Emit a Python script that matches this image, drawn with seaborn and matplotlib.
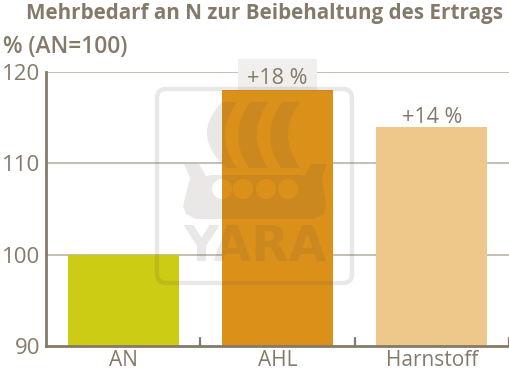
import numpy as np
import pandas as pd
import seaborn as sns
import matplotlib.pyplot as plt
from matplotlib.patches import FancyBboxPatch, PathPatch
from matplotlib.path import Path

categories = ["AN", "AHL", "Harnstoff"]
values = [100, 118, 114]
bar_labels = ["", "+18 %", "+14 %"]
bar_colors = ["#cccc14", "#db9119", "#edc88a"]
y_ticks = [90, 100, 110, 120]

TXT = "#857a6a"
AXIS = "#857a69"
GRID = "#b3ada3"

sns.set_theme(style="white")
plt.rcParams["font.family"] = ["Open Sans", "DejaVu Sans"]

fig = plt.figure(figsize=(5.10, 3.72), dpi=100)
ax = fig.add_axes([46 / 510, 1 - 346 / 372, 463 / 510, 274 / 372])

df = pd.DataFrame({"cat": categories, "val": values})
sns.barplot(data=df, x="cat", y="val", hue="cat", palette=bar_colors, order=categories,
            width=0.72, saturation=1, legend=False, dodge=False, linewidth=0, ax=ax, zorder=3)

ax.set_xlim(-0.5, 2.5)
ax.set_ylim(90, 120)
ax.set_xlabel("")
ax.set_ylabel("")
ax.set_yticks(y_ticks)
ax.tick_params(axis="y", length=0, labelsize=16, labelcolor=TXT, pad=4)
ax.tick_params(axis="x", length=0, labelsize=15, labelcolor=TXT, pad=3)

# grid lines only, no box
for v in y_ticks[1:]:
    ax.axhline(v, color=GRID, lw=1.1, zorder=1)
for s in ["top", "right"]:
    ax.spines[s].set_visible(False)
for s in ["left", "bottom"]:
    ax.spines[s].set_color(AXIS)
    ax.spines[s].set_linewidth(2)
    ax.spines[s].set_zorder(5)

# small ticks between the categories
for x in [0.5, 1.5, 2.5]:
    ax.plot([x, x], [90, 90.9], color=AXIS, lw=1.6, clip_on=False, zorder=5)

# labels over the bars
for i, lab in enumerate(bar_labels):
    if lab == "":
        continue
    box = None
    off = 0.4
    if i == 1:
        box = dict(facecolor="#f0efed", edgecolor="none", pad=6.5)
        off = 0.72
    ax.text(i, values[i] + off, lab, ha="center", va="baseline", fontsize=15.5, color=TXT,
            bbox=box, zorder=2 if i == 1 else 6, clip_on=False)

fig.text(264.5 / 510, 1 - 13 / 372, "Mehrbedarf an N zur Beibehaltung des Ertrags", ha="center", va="center",
         fontsize=14.9, fontweight="bold", color=TXT)
fig.text(3 / 510, 1 - 47 / 372, "% (AN=100)", ha="left", va="center", fontsize=16.4, fontweight="semibold", color=TXT)

# watermark logo, overlay in pixel coordinates
wm = fig.add_axes([0, 0, 1, 1], facecolor="none")
wm.set_xlim(0, 510)
wm.set_ylim(372, 0)
wm.axis("off")
WM = dict(facecolor="#605040", alpha=0.13, edgecolor="none")

wm.add_patch(FancyBboxPatch((157, 89), 195, 194, boxstyle="round,pad=0,rounding_size=9",
                            facecolor="none", edgecolor="#605040", alpha=0.13, lw=3.2))


def crescent(tl, tr, br, bl, inner, outer):
    c_in = (2 * inner[0] - (tr[0] + br[0]) / 2, 2 * inner[1] - (tr[1] + br[1]) / 2)
    c_out = (2 * outer[0] - (tl[0] + bl[0]) / 2, 2 * outer[1] - (tl[1] + bl[1]) / 2)
    verts = [tl, tr, c_in, br, bl, c_out, tl, tl]
    codes = [Path.MOVETO, Path.LINETO, Path.CURVE3, Path.CURVE3, Path.LINETO, Path.CURVE3, Path.CURVE3, Path.CLOSEPOLY]
    return Path(verts, codes)


wm.add_patch(PathPatch(crescent((222, 102), (237, 102), (237, 168), (226, 168), (225, 135), (207, 135)), **WM))
wm.add_patch(PathPatch(crescent((250, 102), (268, 102), (268, 168), (249, 168), (257, 135), (238, 135)), **WM))
wm.add_patch(PathPatch(crescent((282, 102), (300, 102), (300, 168), (281, 168), (288, 135), (270, 135)), **WM))

hull = [(184, 164), (199, 164), (206, 176), (211, 175), (300, 175), (305, 176), (311, 164), (327, 164),
        (322, 178), (326, 206), (324, 214), (314, 219), (196, 219), (186, 214), (183, 206), (190, 178), (184, 164)]
hull_codes = [Path.MOVETO] + [Path.LINETO] * (len(hull) - 2) + [Path.CLOSEPOLY]
boat = [Path(hull[::-1], hull_codes)]
for cx in [222, 243, 266, 288]:
    c = Path.unit_circle()
    boat.append(Path(c.vertices * 10 + [cx, 189], c.codes))
wm.add_patch(PathPatch(Path.make_compound_path(*boat), **WM))

wm.text(255, 247, "YARA", ha="center", va="center", fontsize=35, fontweight="bold",
        family="DejaVu Sans", color="#605040", alpha=0.13)

fig.savefig("out.png", dpi=100)
